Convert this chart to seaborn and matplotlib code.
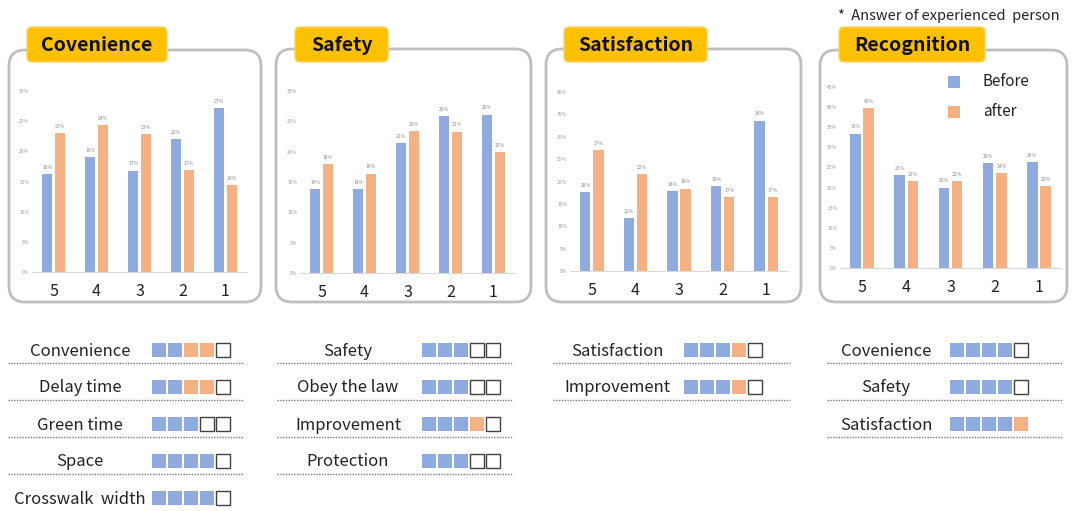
import numpy as np
import pandas as pd
import matplotlib
matplotlib.use("Agg")
import matplotlib.pyplot as plt
import seaborn as sns
from matplotlib.patches import FancyBboxPatch, Rectangle

sns.set_theme(style="white")
plt.rcParams['font.family'] = ['Noto Sans CJK KR', 'DejaVu Sans']

# data (percent of answers per score)
scores = ["5", "4", "3", "2", "1"]
titles = ["Covenience", "Safety", "Satisfaction", "Recognition"]

conv_before = [16.2, 19.0, 16.8, 22.0, 27.1]
conv_after = [23.0, 24.4, 22.8, 16.9, 14.4]
safe_before = [13.8, 13.8, 21.4, 25.8, 26.1]
safe_after = [18.0, 16.4, 23.4, 23.3, 20.0]
sat_before = [17.6, 11.8, 17.9, 18.9, 33.6]
sat_after = [27.0, 21.6, 18.4, 16.6, 16.6]
rec_before = [33.4, 23.0, 20.0, 26.0, 26.4]
rec_after = [39.8, 21.6, 21.6, 23.6, 20.4]
y_max = [30, 30, 40, 45]

# rating rows under the charts: b = blue, o = orange, e = empty
col1_labels = ["Convenience", "Delay time", "Green time", "Space", "Crosswalk  width"]
col1_marks = ["bbooe", "bbooe", "bbbee", "bbbbe", "bbbbe"]
col2_labels = ["Safety", "Obey the law", "Improvement", "Protection"]
col2_marks = ["bbbee", "bbbee", "bbboe", "bbbee"]
col3_labels = ["Satisfaction", "Improvement"]
col3_marks = ["bbboe", "bbboe"]
col4_labels = ["Covenience", "Safety", "Satisfaction"]
col4_marks = ["bbbbe", "bbbbe", "bbbbo"]

blue = "#8FAADC"
orange = "#F4B183"

W, H = 1073, 511
fig = plt.figure(figsize=(W / 100, H / 100), dpi=100)
bg = fig.add_axes([0, 0, 1, 1])
bg.set_xlim(0, W)
bg.set_ylim(H, 0)
bg.axis("off")


def fig_rect(x0, y0, x1, y1):
    return [x0 / W, 1 - y1 / H, (x1 - x0) / W, (y1 - y0) / H]


boxes = [(9, 50, 261, 302), (276, 49, 531, 302), (546, 49, 801, 302), (820, 50, 1067, 302)]
tabs = [(27, 27, 167, 62), (295, 27, 388, 62), (564, 27, 707, 62), (839, 27, 985, 62)]
axes_px = [(32, 91, 247, 272), (300, 91, 515, 273), (570, 92, 788, 271), (840, 87, 1061, 268)]
panels = [(conv_before, conv_after), (safe_before, safe_after),
          (sat_before, sat_after), (rec_before, rec_after)]

for i in range(4):
    x0, y0, x1, y1 = boxes[i]
    bg.add_patch(FancyBboxPatch((x0, y0), x1 - x0, y1 - y0,
                                boxstyle="round,pad=0,rounding_size=16",
                                fc="white", ec="#BFBFBF", lw=2))
    tx0, ty0, tx1, ty1 = tabs[i]
    bg.add_patch(FancyBboxPatch((tx0, ty0), tx1 - tx0, ty1 - ty0,
                                boxstyle="round,pad=0,rounding_size=5",
                                fc="#FFC000", ec="#F5D36B", lw=1))
    bg.text((tx0 + tx1) / 2, (ty0 + ty1) / 2 + 1, titles[i], ha="center", va="center",
            fontsize=14, fontweight="bold", color="#111111")

    before, after = panels[i]
    df = pd.DataFrame({
        "score": scores * 2,
        "pct": before + after,
        "when": ["Before"] * 5 + ["after"] * 5,
    })
    ax = fig.add_axes(fig_rect(*axes_px[i]))
    ax.set_facecolor("none")
    sns.barplot(data=df, x="score", y="pct", hue="when", order=scores,
                hue_order=["Before", "after"], palette=[blue, orange],
                saturation=1, width=0.6, gap=0.2, legend=False, ax=ax,
                edgecolor="none")
    for c in ax.containers:
        ax.bar_label(c, fmt="%.0f%%", fontsize=3.5, color="#8C8C8C", padding=3)
    ax.set_ylim(0, y_max[i])
    ax.set_yticks(np.arange(0, y_max[i] + 1, 5))
    ax.set_yticklabels([f"{t}%" for t in range(0, y_max[i] + 1, 5)])
    ax.tick_params(axis="y", labelsize=3.5, labelcolor="#9A9A9A", length=0, pad=2)
    ax.tick_params(axis="x", labelsize=11.5, labelcolor="#222222", length=0, pad=8)
    ax.set_xlabel("")
    ax.set_ylabel("")
    for s in ["left", "right", "top"]:
        ax.spines[s].set_visible(False)
    ax.spines["bottom"].set_color("#D9D9D9")
    ax.spines["bottom"].set_linewidth(0.8)

# legend inside the last panel
for j, (lab, col) in enumerate([("Before", blue), ("after", orange)]):
    yy = 82 + j * 30
    bg.add_patch(Rectangle((948, yy - 6), 12, 12, fc=col, ec="none"))
    bg.text(983, yy, lab, ha="left", va="center", fontsize=11, color="#222222")

bg.text(1060, 16, "*  Answer of experienced  person", ha="right", va="center",
        fontsize=10.5, color="#222222")

# rating rows
columns = [
    (col1_labels, col1_marks, 80, 152, 8, 243),
    (col2_labels, col2_marks, 348, 422, 277, 512),
    (col3_labels, col3_marks, 617, 684, 553, 790),
    (col4_labels, col4_marks, 886, 950, 827, 1062),
]
mark_col = {"b": blue, "o": orange}
for labels, marks, cx, sx, lx0, lx1 in columns:
    for r, (lab, mk) in enumerate(zip(labels, marks)):
        yy = 350 + r * 37
        bg.text(cx, yy + 1, lab, ha="center", va="center", fontsize=12, color="#222222")
        for k, m in enumerate(mk):
            if m == "e":
                bg.add_patch(Rectangle((sx + k * 16, yy - 7), 14, 14, fc="white",
                                       ec="#404040", lw=1))
            else:
                bg.add_patch(Rectangle((sx + k * 16, yy - 7), 14, 14, fc=mark_col[m],
                                       ec="none"))
        if yy + 13 < H - 4:
            bg.plot([lx0, lx1], [yy + 13, yy + 13], color="#777777", lw=1,
                    linestyle=(0, (1, 1)))

fig.savefig("out.png", dpi=100)
